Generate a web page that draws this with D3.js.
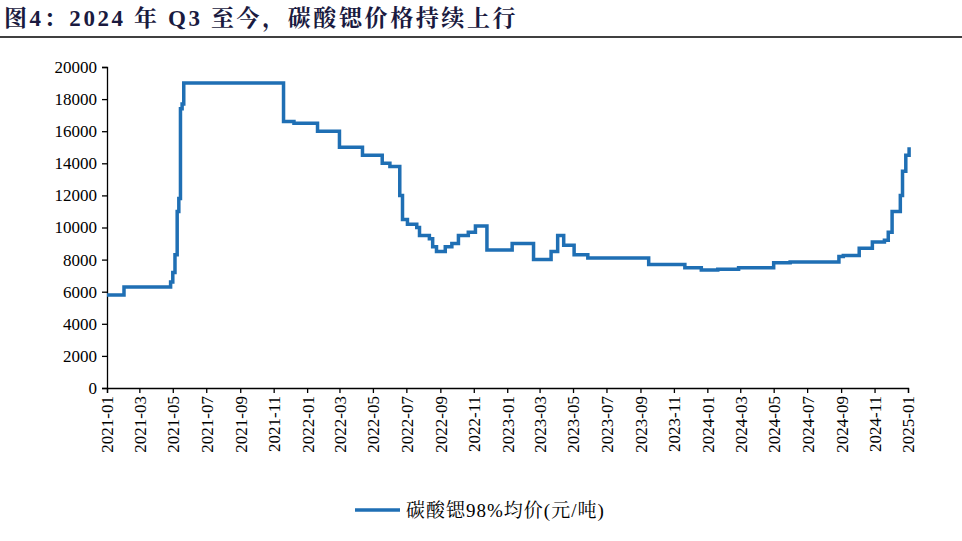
<!DOCTYPE html>
<html><head><meta charset="utf-8">
<script src="https://cdn.jsdelivr.net/npm/d3@7"></script>
<style>body{margin:0;background:#fff}</style></head>
<body><svg id="c" width="962" height="541"></svg>
<script>
const dates=["2021-01-01","2021-02-01","2021-04-27","2021-05-01","2021-05-05","2021-05-09","2021-05-12","2021-05-15","2021-05-18","2021-05-21","2021-05-24","2021-11-19","2021-12-08","2022-01-20","2022-03-01","2022-04-12","2022-05-18","2022-06-01","2022-06-19","2022-06-24","2022-07-03","2022-07-20","2022-07-25","2022-08-12","2022-08-18","2022-08-25","2022-09-10","2022-09-22","2022-10-04","2022-10-22","2022-11-04","2022-11-25","2023-01-10","2023-02-18","2023-03-22","2023-04-03","2023-04-14","2023-05-03","2023-05-28","2023-09-16","2023-11-21","2023-12-21","2024-01-20","2024-02-27","2024-05-01","2024-05-31","2024-08-28","2024-09-05","2024-10-04","2024-10-28","2024-11-19","2024-11-26","2024-12-03","2024-12-18","2024-12-22","2024-12-28","2025-01-03"];
const values=[5800,6300,6600,7200,8300,11000,11800,17400,17700,19000,19000,16600,16500,16000,15000,14500,14000,13800,12000,10500,10200,10000,9500,9300,8800,8500,8800,9000,9500,9700,10100,8600,9000,8000,8500,9500,8900,8300,8100,7700,7500,7350,7400,7500,7800,7850,8200,8250,8700,9100,9200,9700,11000,12000,13500,14500,15000];
const yTicks=[0,2000,4000,6000,8000,10000,12000,14000,16000,18000,20000];
const seriesName="碳酸锶98%均价(元/吨)";
const title="图4：2024 年 Q3 至今，碳酸锶价格持续上行";
const parse=d3.timeParse("%Y-%m-%d");
const data=dates.map((d,i)=>({d:parse(d),v:values[i]}));
const svg=d3.select("#c");
const font="'Liberation Serif','Noto Serif CJK SC','Noto Sans CJK SC',serif";
svg.append("text").attr("x",4).attr("y",26).attr("font-family",font).attr("font-weight","bold").attr("font-size",23).attr("letter-spacing",2.6).attr("fill","#1a1a40").text(title);
svg.append("line").attr("x1",0).attr("x2",962).attr("y1",37).attr("y2",37).attr("stroke","#000").attr("stroke-width",1.5);
const x=d3.scaleTime().domain([parse("2021-01-01"),parse("2025-01-01")]).range([107,908]);
const y=d3.scaleLinear().domain([0,20000]).range([388,67]);
const ticks=d3.timeMonth.every(2).range(parse("2021-01-01"),parse("2025-01-02"));
const ya=svg.append("g").attr("transform","translate(107,0)").call(d3.axisLeft(y).tickValues(yTicks).tickSize(5).tickFormat(d3.format("d")));
ya.selectAll("text").attr("font-family",font).attr("font-size",17).attr("fill","#000").attr("dx",-2);
const xa=svg.append("g").attr("transform","translate(0,388)").call(d3.axisBottom(x).tickValues(ticks).tickSize(5).tickFormat(d3.timeFormat("%Y-%m")));
xa.selectAll("text").attr("font-family",font).attr("font-size",17).attr("fill","#000").attr("transform","rotate(-90)").attr("text-anchor","end").attr("dx","-8").attr("dy","0.35em").attr("y",0).attr("x",0);
svg.selectAll(".domain,.tick line").attr("stroke","#000").attr("stroke-width",1.3);
svg.append("path").datum(data).attr("fill","none").attr("stroke","#1f6fb4").attr("stroke-width",3.5)
 .attr("d",d3.line().x(d=>x(d.d)).y(d=>y(d.v)).curve(d3.curveStepAfter));
svg.append("line").attr("x1",355).attr("x2",400).attr("y1",510).attr("y2",510).attr("stroke","#1f6fb4").attr("stroke-width",3.5);
svg.append("text").attr("x",406).attr("y",517).attr("font-family",font).attr("font-size",19).attr("letter-spacing",1).attr("fill","#000").text(seriesName);
</script></body></html>
